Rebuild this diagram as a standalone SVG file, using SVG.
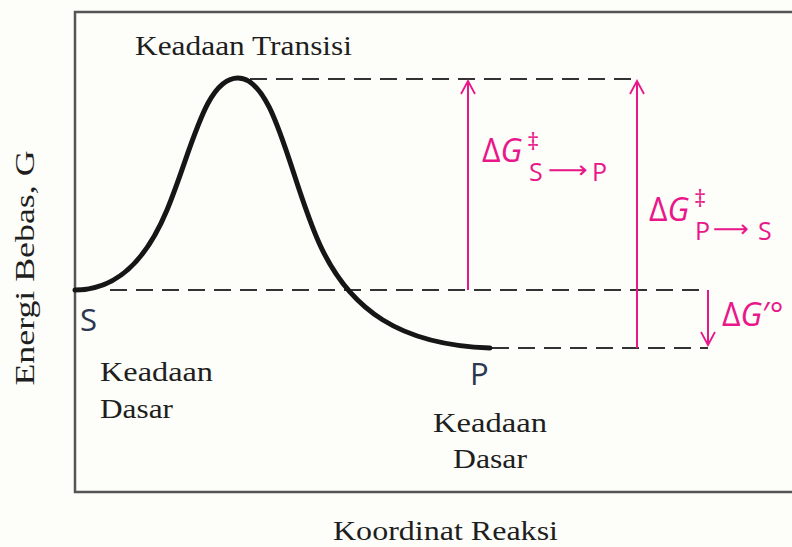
<svg xmlns="http://www.w3.org/2000/svg" width="792" height="547" viewBox="0 0 792 547">
<defs>
<style>
.serif{font-family:"Liberation Serif","DejaVu Serif",serif;font-size:27px;fill:#1e1e1e}
.pk{font-family:"Open Sans","Noto Sans","DejaVu Sans",sans-serif;fill:#e8178a}
.lbl{font-family:"Open Sans","Noto Sans","DejaVu Sans",sans-serif;fill:#2b3650;font-size:31px}
.dash{stroke:#333;stroke-width:2;stroke-dasharray:17 9;fill:none}
.pline{stroke:#e8178a;stroke-width:2;fill:none}
</style>
<marker id="ah" viewBox="0 0 16 16" refX="14" refY="8" markerWidth="16" markerHeight="16" markerUnits="userSpaceOnUse" orient="auto">
<path d="M1,1 L14,8 L1,15" fill="none" stroke="#e8178a" stroke-width="1.8"/>
</marker>
</defs>
<rect width="792" height="547" fill="#fdfdf9"/>
<g id="frame">
<path d="M792,12 H75 V492 H792" fill="none" stroke="#555" stroke-width="2.5"/>
</g>
<g id="guides">
<line class="dash" x1="250" y1="79" x2="637" y2="79"/>
<line class="dash" x1="110" y1="290" x2="708" y2="290"/>
<line class="dash" x1="492" y1="348" x2="708" y2="348"/>
</g>
<g id="curve">
<path d="M75,290 C110,290 142,270 167,210 C192,150 205,78 238,78 C275,78 290,180 320,245 C350,310 400,345 490,348" fill="none" stroke="#161616" stroke-width="5" stroke-linecap="round"/>
</g>
<g id="connectors">
<line class="pline" x1="468" y1="290" x2="468" y2="81" marker-end="url(#ah)"/>
<line class="pline" x1="637" y1="348" x2="637" y2="81" marker-end="url(#ah)"/>
<line class="pline" x1="708" y1="290" x2="708" y2="345" marker-end="url(#ah)"/>
</g>
<g id="labels">
<text class="serif" x="135" y="55" textLength="217" lengthAdjust="spacingAndGlyphs">Keadaan Transisi</text>
<text class="serif" x="100" y="381" textLength="113" lengthAdjust="spacingAndGlyphs">Keadaan</text>
<text class="serif" x="100" y="418" textLength="73" lengthAdjust="spacingAndGlyphs">Dasar</text>
<text class="serif" x="433" y="432" textLength="114" lengthAdjust="spacingAndGlyphs">Keadaan</text>
<text class="serif" x="453" y="468" textLength="74" lengthAdjust="spacingAndGlyphs">Dasar</text>
<text class="serif" x="333" y="540" textLength="225" lengthAdjust="spacingAndGlyphs">Koordinat Reaksi</text>
<text class="serif" transform="translate(34,268) rotate(-90)" text-anchor="middle" textLength="235" lengthAdjust="spacingAndGlyphs">Energi Bebas, G</text>
<text class="lbl" x="80" y="331">S</text>
<text class="lbl" x="470" y="385">P</text>
</g>
<g id="delta-labels">
<text class="pk" x="482" y="162" font-size="32">Δ<tspan font-style="italic">G</tspan></text>
<text class="pk" x="527" y="150" font-size="24">‡</text>
<text class="pk" x="529" y="181" font-size="25">S</text>
<text class="pk" x="548" y="178" font-size="24" font-family="DejaVu Sans" textLength="40" lengthAdjust="spacingAndGlyphs">⟶</text>
<text class="pk" x="592" y="181" font-size="25">P</text>
<text class="pk" x="649" y="221" font-size="32">Δ<tspan font-style="italic">G</tspan></text>
<text class="pk" x="694" y="207" font-size="24">‡</text>
<text class="pk" x="695" y="240" font-size="25">P</text>
<text class="pk" x="713" y="237" font-size="24" font-family="DejaVu Sans" textLength="36" lengthAdjust="spacingAndGlyphs">⟶</text>
<text class="pk" x="758" y="240" font-size="25">S</text>
<text class="pk" x="722" y="326" font-size="32">Δ<tspan font-style="italic">G</tspan>′°</text>
</g>
</svg>
